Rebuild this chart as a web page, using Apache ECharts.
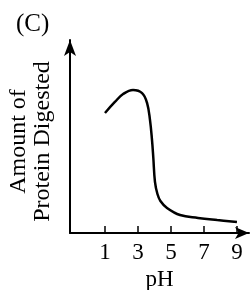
<!DOCTYPE html>
<html>
<head>
<meta charset="utf-8">
<script src="https://cdn.jsdelivr.net/npm/echarts@6/dist/echarts.min.js"></script>
<style>
  html, body { margin: 0; padding: 0; background: #fff; }
  #chart { width: 252px; height: 290px; }
</style>
</head>
<body>
<div id="chart"></div>
<script>
// values
var phValues = [1.0, 1.6, 2.1, 2.7, 3.25, 3.55, 3.73, 3.85, 3.93, 4.03, 4.18, 4.36, 4.76, 5.55, 6.64, 7.8, 9.0];
var amountValues = [62.2, 67.9, 72, 74.1, 72.5, 67.4, 58.5, 48.2, 39, 26.5, 20.2, 16.6, 13, 9.3, 7.8, 6.7, 5.7];
var tickValues = [1, 3, 5, 7, 9];

var fontName = 'Liberation Serif';

var points = [];
for (var i = 0; i < phValues.length; i++) {
    points.push([phValues[i], amountValues[i]]);
}

var myChart = echarts.init(document.getElementById('chart'));

var option = {
    animation: false,
    backgroundColor: '#fff',
    title: {
        text: '(C)',
        left: 11,
        top: 7,
        textStyle: { fontFamily: fontName, fontSize: 25, fontWeight: 'normal', color: '#000' }
    },
    grid: { left: 70, right: 3, top: 40, bottom: 57, outerBoundsMode: 'none' },
    xAxis: {
        type: 'value',
        min: -1.12,
        max: 9.73,
        name: 'pH',
        nameLocation: 'middle',
        nameGap: 31,
        nameTextStyle: { fontFamily: fontName, fontSize: 23, color: '#000' },
        splitLine: { show: false },
        axisLine: {
            onZero: false,
            lineStyle: { color: '#000', width: 2 },
            symbol: ['none', 'arrow'],
            symbolSize: [9, 14]
        },
        axisTick: { show: true, inside: true, length: 7, customValues: tickValues, lineStyle: { color: '#000', width: 1.5 } },
        axisLabel: { customValues: tickValues, fontFamily: fontName, fontSize: 23, color: '#000', margin: 8 }
    },
    yAxis: {
        type: 'value',
        min: 0,
        max: 100,
        name: 'Amount of\nProtein Digested',
        nameLocation: 'middle',
        nameRotate: 90,
        nameGap: 15,
        nameTextStyle: { fontFamily: fontName, fontSize: 24, color: '#000', lineHeight: 24, padding: [0, 10, 0, 0] },
        splitLine: { show: false },
        axisTick: { show: false },
        axisLabel: { show: false },
        axisLine: {
            show: true,
            onZero: false,
            lineStyle: { color: '#000', width: 2 },
            symbol: ['none', 'arrow'],
            symbolSize: [9, 16]
        }
    },
    series: [{
        type: 'line',
        data: points,
        smooth: 0.4,
        showSymbol: false,
        lineStyle: { color: '#000', width: 2.5 }
    }]
};

myChart.setOption(option);
window.addEventListener('resize', function () {
    myChart.resize();
});
</script>
</body>
</html>
